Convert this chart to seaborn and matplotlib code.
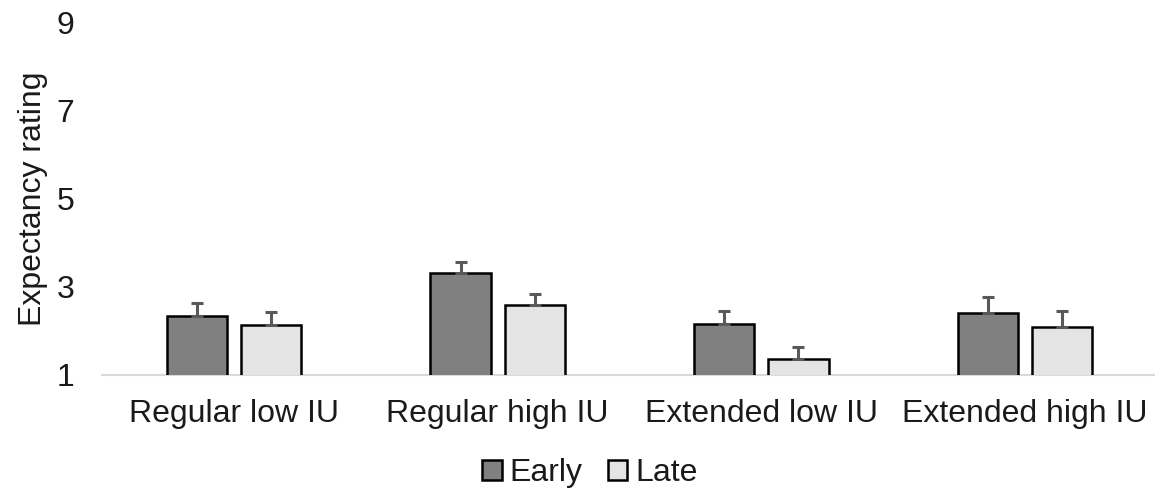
import numpy as np
import pandas as pd
import matplotlib
matplotlib.use("Agg")
import matplotlib.pyplot as plt
import seaborn as sns

categories = ["Regular low IU", "Regular high IU", "Extended low IU", "Extended high IU"]
series = ["Early", "Late"]
early_mean = [2.33, 3.31, 2.15, 2.40]
late_mean = [2.14, 2.58, 1.36, 2.10]
early_se = [0.31, 0.25, 0.31, 0.38]
late_se = [0.30, 0.26, 0.27, 0.35]
y_ticks = [1, 3, 5, 7, 9]

sns.set_theme(style="white")
plt.rcParams["font.family"] = ["Liberation Sans", "DejaVu Sans"]

df = pd.DataFrame({
    "category": categories * 2,
    "phase": ["Early"] * 4 + ["Late"] * 4,
    "value": early_mean + late_mean,
})

fig = plt.figure(figsize=(11.55, 4.97), dpi=100)
ax = fig.add_axes([102 / 1155, 1 - 375 / 497, 1055 / 1155, 352 / 497])

palette = {"Early": "#808080", "Late": "#e4e4e4"}
sns.barplot(data=df, x="category", y="value", hue="phase", order=categories,
            hue_order=series, palette=palette, width=0.563, gap=0.19,
            edgecolor="black", linewidth=1.8, errorbar=None, ax=ax, saturation=1)

# one-sided error bars
ses = {"Early": early_se, "Late": late_se}
means = {"Early": early_mean, "Late": late_mean}
for container, name in zip(ax.containers, series):
    xs = [p.get_x() + p.get_width() / 2 for p in container.patches]
    ax.errorbar(xs, means[name], yerr=[np.zeros(4), ses[name]], fmt="none",
                ecolor="#595959", elinewidth=2.2, capsize=4.5, capthick=2.2, zorder=3)

ax.set_ylim(1, 9)
ax.set_xlim(-0.5, 3.5)
ax.set_yticks(y_ticks)
ax.set_yticklabels([str(t) for t in y_ticks])
ax.tick_params(axis="both", labelsize=23, colors="#1a1a1a", length=0)
ax.tick_params(axis="y", pad=20)
ax.tick_params(axis="x", pad=17)
ax.set_xlabel("")
ax.set_ylabel("Expectancy rating", fontsize=23, color="#1a1a1a", labelpad=6)

for s in ["top", "right", "left"]:
    ax.spines[s].set_visible(False)
ax.spines["bottom"].set_color("#d9d9d9")
ax.spines["bottom"].set_linewidth(1.5)
ax.spines["bottom"].set_zorder(0.5)

ax.legend_.remove()
handles = [plt.Rectangle((0, 0), 1, 1, facecolor=palette[s], edgecolor="black", linewidth=1.8)
           for s in series]
fig.legend(handles, series, loc="center", bbox_to_anchor=(590 / 1155, 1 - 473 / 497),
           ncol=2, frameon=False, fontsize=23, handlelength=0.6, handleheight=0.6,
           handletextpad=0.25, columnspacing=0.8, labelcolor="#1a1a1a")

fig.savefig("out.png", dpi=100)
